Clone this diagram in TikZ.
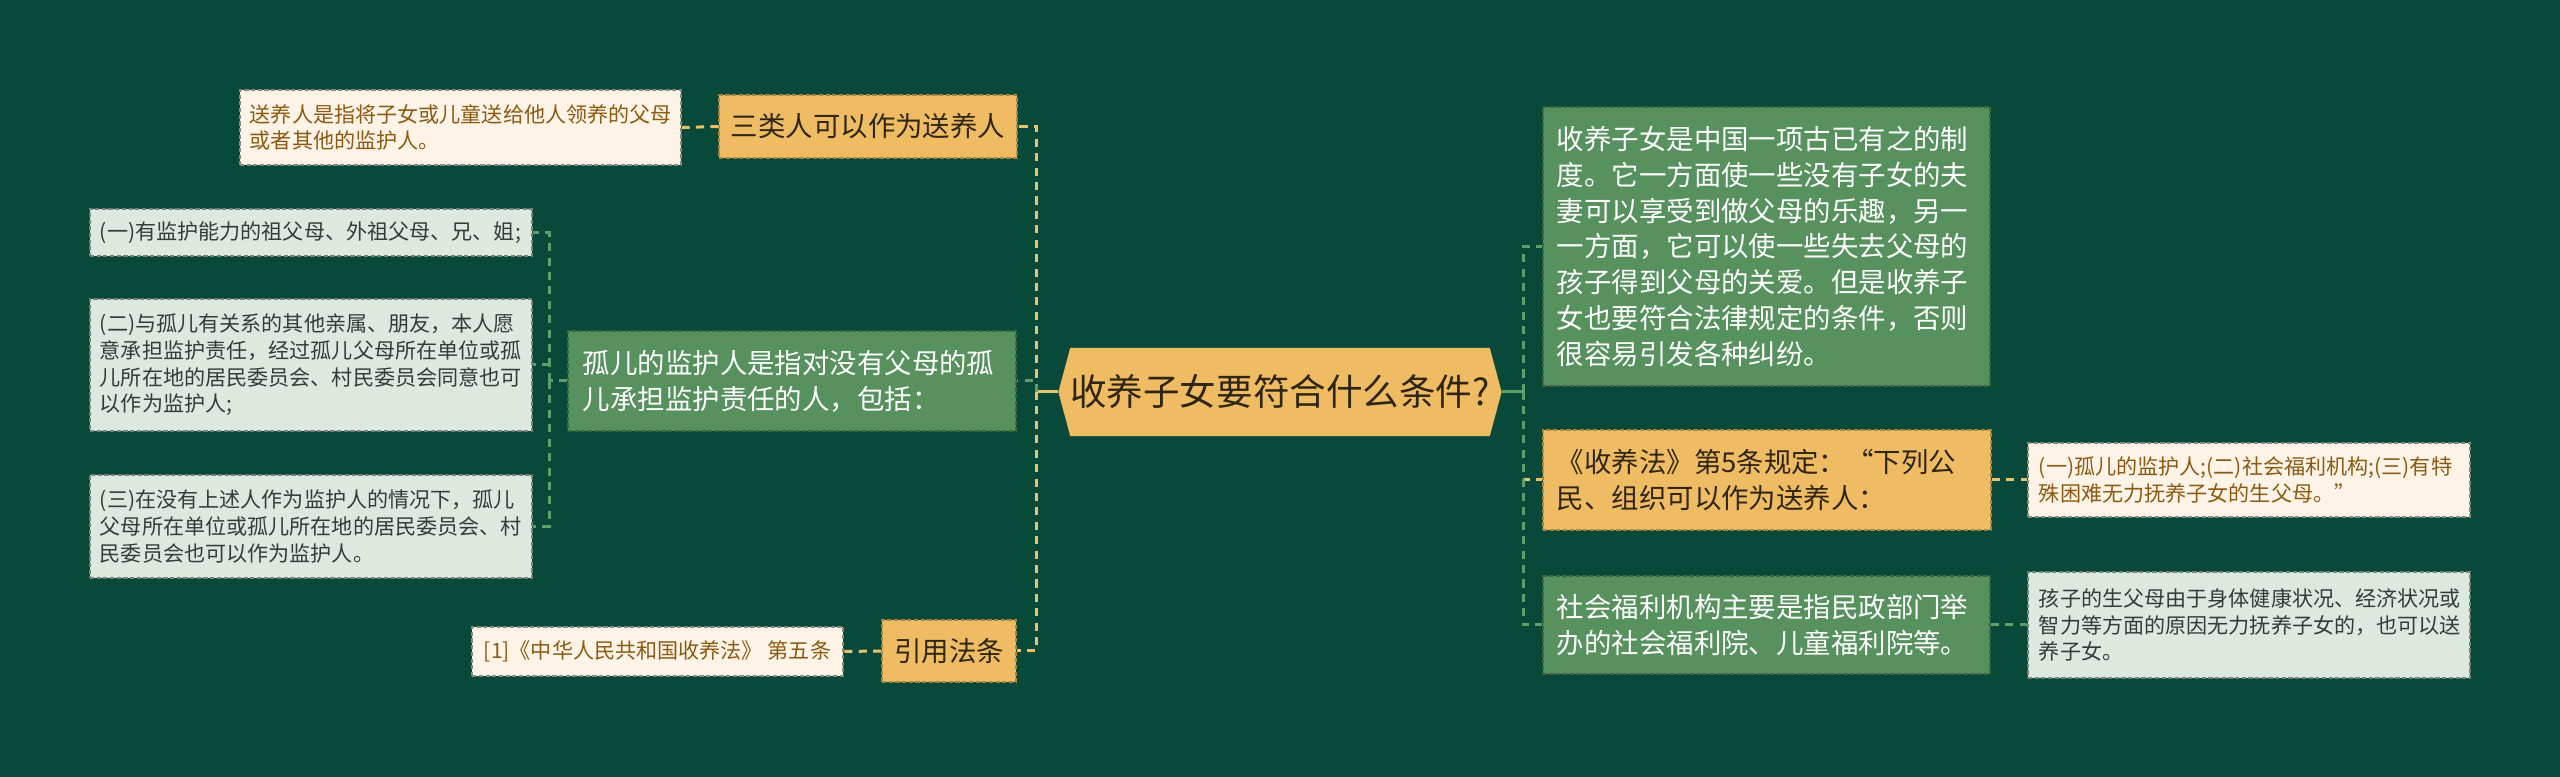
\documentclass[tikz,border=0pt]{standalone}
\usepackage{fontspec}
\newfontfamily\cjk{Noto Sans CJK SC}
\usepackage{tikz}
\usetikzlibrary{shapes.symbols}
\definecolor{bgdark}{HTML}{094939}
\definecolor{hubyellow}{HTML}{F0BC63}
\definecolor{midgreen}{HTML}{56915E}
\definecolor{creamfill}{HTML}{FDF3E6}
\definecolor{mintfill}{HTML}{DCE9DF}
\definecolor{darktext}{HTML}{2E2613}
\definecolor{leafbrown}{HTML}{8C5A12}
\definecolor{leafgray}{HTML}{333D36}
\definecolor{linkyellow}{HTML}{E9C46E}
\definecolor{linkgreen}{HTML}{5E9E69}
\newcommand\midfont{\fontsize{7.8pt}{10.2pt}\selectfont\cjk}
\newcommand\leaffont{\fontsize{6pt}{7.6pt}\selectfont\cjk}

\begin{document}
\begin{tikzpicture}[x=0.01cm, y=-0.01cm,
  base/.style={rectangle, inner ysep=0pt, align=left, line width=0.4pt, dash pattern=on 1.2pt off 0.7pt},
  hubnode/.style={signal, signal to=east and west, signal pointer angle=150, fill=hubyellow, inner sep=0pt, minimum width=4.4cm, minimum height=0.88cm, text=darktext, font=\fontsize{10.4pt}{12pt}\selectfont\cjk},
  yellowbox/.style={base, fill=hubyellow, draw=hubyellow!70!black, text=darktext, font=\midfont},
  greenbox/.style={base, fill=midgreen, draw=midgreen!70!black, text=white, font=\midfont},
  creamleaf/.style={base, fill=creamfill, draw=creamfill!55!black, text=leafbrown, font=\leaffont},
  mintleaf/.style={base, fill=mintfill, draw=mintfill!55!black, text=leafgray, font=\leaffont},
  yline/.style={draw=linkyellow, line width=0.85pt, dash pattern=on 2.3pt off 1.8pt},
  gline/.style={draw=linkgreen, line width=0.85pt, dash pattern=on 2.3pt off 1.8pt}]
\useasboundingbox (0,0) rectangle (2560,777);
\fill[bgdark] (0,0) rectangle (2560,777);
% centre
\node[hubnode] (hub) at (1280,392) {收养子女要符合什么条件?};
% left side
\node[yellowbox, minimum width=2.96cm, minimum height=0.63cm, align=center] (sanlei) at (868,126.5) {三类人可以作为送养人};
\node[creamleaf, text width=4.21cm, inner xsep=0.1cm, minimum height=0.75cm] (songyang) at (460.5,127.5) {送养人是指将子女或儿童送给他人领养的父母\\或者其他的监护人。};
\node[greenbox, text width=4.18cm, inner xsep=0.15cm, minimum height=1.0cm] (guer) at (792,381) {孤儿的监护人是指对没有父母的孤\\儿承担监护责任的人，包括：};
\node[mintleaf, text width=4.22cm, inner xsep=0.1cm, minimum height=0.47cm] (jianhu1) at (311,232.5) {(一)有监护能力的祖父母、外祖父母、兄、姐;};
\node[mintleaf, text width=4.22cm, inner xsep=0.1cm, minimum height=1.32cm] (jianhu2) at (311,365) {(二)与孤儿有关系的其他亲属、朋友，本人愿\\意承担监护责任，经过孤儿父母所在单位或孤\\儿所在地的居民委员会、村民委员会同意也可\\以作为监护人;};
\node[mintleaf, text width=4.22cm, inner xsep=0.1cm, minimum height=1.03cm] (jianhu3) at (311,526.5) {(三)在没有上述人作为监护人的情况下，孤儿\\父母所在单位或孤儿所在地的居民委员会、村\\民委员会也可以作为监护人。};
\node[yellowbox, minimum width=1.34cm, minimum height=0.62cm, align=center] (yinyong) at (949,651) {引用法条};
\node[creamleaf, minimum width=3.69cm, minimum height=0.49cm, align=center] (yinwen) at (657.5,651.5) {[1]《中华人民共和国收养法》 第五条};
% right side
\node[greenbox, text width=4.19cm, inner xsep=0.14cm, minimum height=2.79cm] (intro) at (1766.5,246.5) {收养子女是中国一项古已有之的制\\度。它一方面使一些没有子女的夫\\妻可以享受到做父母的乐趣，另一\\一方面，它可以使一些失去父母的\\孩子得到父母的关爱。但是收养子\\女也要符合法律规定的条件，否则\\很容易引发各种纠纷。};
\node[yellowbox, text width=4.2cm, inner xsep=0.14cm, minimum height=1.0cm] (fagui) at (1767,480) {《收养法》第5条规定：“下列公\\民、组织可以作为送养人：};
\node[creamleaf, text width=4.2cm, inner xsep=0.11cm, minimum height=0.74cm] (songren) at (2249,480) {(一)孤儿的监护人;(二)社会福利机构;(三)有特\\殊困难无力抚养子女的生父母。”};
\node[greenbox, text width=4.19cm, inner xsep=0.14cm, minimum height=0.98cm] (fuli) at (1766.5,625) {社会福利机构主要是指民政部门举\\办的社会福利院、儿童福利院等。};
\node[mintleaf, text width=4.2cm, inner xsep=0.11cm, minimum height=1.06cm] (shengfu) at (2249,625) {孩子的生父母由于身体健康状况、经济状况或\\智力等方面的原因无力抚养子女的，也可以送\\养子女。};
% connectors
\coordinate (lspine) at (1036,392);
\coordinate (rspine) at (1523,392);
\coordinate (gspine) at (549,381);
\draw[linkyellow, line width=0.85pt] (hub.west) -- (lspine);
\draw[yline] (lspine) |- (sanlei.east);
\draw[gline] (lspine) |- (guer.east);
\draw[yline] (lspine) |- (yinyong.east);
\draw[yline] (sanlei.west) -- (songyang.east);
\draw[yline] (yinyong.west) -- (yinwen.east);
\draw[gline] (guer.west) -- (gspine);
\foreach \leaf in {jianhu1,jianhu2,jianhu3}
  \draw[gline] (gspine) |- (\leaf.east);
\draw[linkgreen, line width=0.85pt] (hub.east) -- (rspine);
\draw[gline] (rspine) |- (intro.west);
\draw[yline] (rspine) |- (fagui.west);
\draw[gline] (rspine) |- (fuli.west);
\draw[yline] (fagui.east) -- (songren.west);
\draw[gline] (fuli.east) -- (shengfu.west);
\end{tikzpicture}
\end{document}
